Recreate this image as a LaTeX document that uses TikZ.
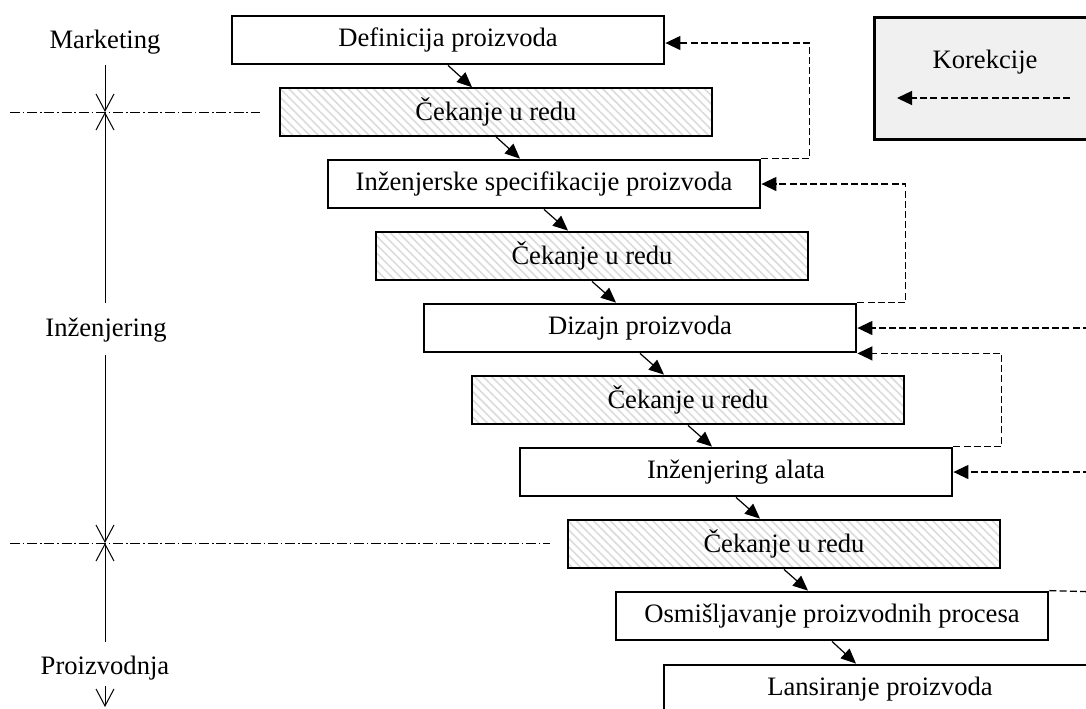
\documentclass[tikz,border=0pt]{standalone}
\usepackage{fontspec}
\setmainfont{Liberation Serif}
\usetikzlibrary{arrows.meta,patterns.meta}

\begin{document}
\begin{tikzpicture}[x=0.5pt,y=-0.5pt,
  every node/.style={font=\fontsize{13.3pt}{16pt}\selectfont},
  stagebase/.style={draw, line width=1.4pt, minimum width=216pt,
    minimum height=24pt, inner sep=0pt},
  stage/.style={stagebase, fill=white},
  waitbox/.style={stagebase,
    pattern={Lines[angle=-45,distance=3pt,line width=0.8pt]},
    pattern color=black!14},
  flow/.style={line width=0.6pt, -{Triangle[length=7.5pt,width=6.5pt]}},
  fbline/.style={line width=0.65pt, dash pattern=on 3.5pt off 1.6pt},
  fb/.style={fbline, -{Triangle[length=7.5pt,width=7pt]}},
  axis/.style={line width=0.5pt},
  barb/.tip={Straight Barb[length=8.5pt,width=9pt,line width=0.5pt]},
  divider/.style={line width=0.5pt, dash pattern=on 5pt off 1.4pt on 0.8pt off 1.4pt}
]
\useasboundingbox (0,0) rectangle (1086,708);

% process stages, each shifted right and down from the previous one
\node[stage]   (b1)  at (448,40)  {Definicija proizvoda};
\node[waitbox] (b2)  at (496,112) {Čekanje u redu};
\node[stage]   (b3)  at (544,184) {Inženjerske specifikacije proizvoda};
\node[waitbox] (b4)  at (592,256) {Čekanje u redu};
\node[stage]   (b5)  at (640,328) {Dizajn proizvoda};
\node[waitbox] (b6)  at (688,400) {Čekanje u redu};
\node[stage]   (b7)  at (736,472) {Inženjering alata};
\node[waitbox] (b8)  at (784,544) {Čekanje u redu};
\node[stage]   (b9)  at (832,616) {Osmišljavanje proizvodnih procesa};
\node[stage]   (b10) at (880,689) {Lansiranje proizvoda};

% forward flow
\foreach \a/\b in {b1/b2,b2/b3,b3/b4,b4/b5,b5/b6,b6/b7,b7/b8,b8/b9,b9/b10}
  \draw[flow] (\a.south) -- ([xshift=-12pt]\b.north);

% correction loops
\draw[fb] (b3.north east) -- ++(48,0) |- ([yshift=-1.5pt]b1.east);
\draw[fb] (b5.north east) -- ++(48,0) |- (b3.east);
\draw[fb] (b7.north east) -- ++(48,0) |- (b5.south east);

\coordinate (in5) at (1100,328);
\coordinate (in7) at (1100,472);
\coordinate (out9) at (1100,592);
\draw[fb] (in5) -- (b5.east);
\draw[fb] (in7) -- (b7.east);
\draw[fbline] (b9.north east) -- (out9);

% legend
\node[draw, line width=1.4pt, fill=black!6, minimum width=113.5pt,
  minimum height=61pt, inner sep=0pt, anchor=north west] (legend) at (873,16) {};
\node (legtxt) at (985,62) {Korekcije};
\coordinate (lg1) at (1070,98);
\coordinate (lg2) at (897,98);
\draw[fb] (lg1) -- (lg2);

% departments on the left
\node (mkt) at (105,42)  {Marketing};
\node (inz) at (106,330) {Inženjering};
\node (pro) at (105,668) {Proizvodnja};

\coordinate (d1) at (105,112);
\coordinate (d2) at (105,543);
\coordinate (a1) at (105,65);
\coordinate (a2) at (105,303);
\coordinate (a3) at (105,355);
\coordinate (a4) at (105,642);
\coordinate (a5) at (105,686);
\coordinate (a6) at (105,707);

\draw[axis,-{barb}] (a1) -- (d1);
\draw[axis,{barb}-] (d1) -- (a2);
\draw[axis,-{barb}] (a3) -- (d2);
\draw[axis,{barb}-] (d2) -- (a4);
\draw[axis,-{barb}] (a5) -- (a6);

\coordinate (l1) at (10,112);
\coordinate (r1) at (260,112);
\coordinate (l2) at (10,543);
\coordinate (r2) at (550,543);
\draw[divider] (l1) -- (r1);
\draw[divider] (l2) -- (r2);
\end{tikzpicture}
\end{document}
